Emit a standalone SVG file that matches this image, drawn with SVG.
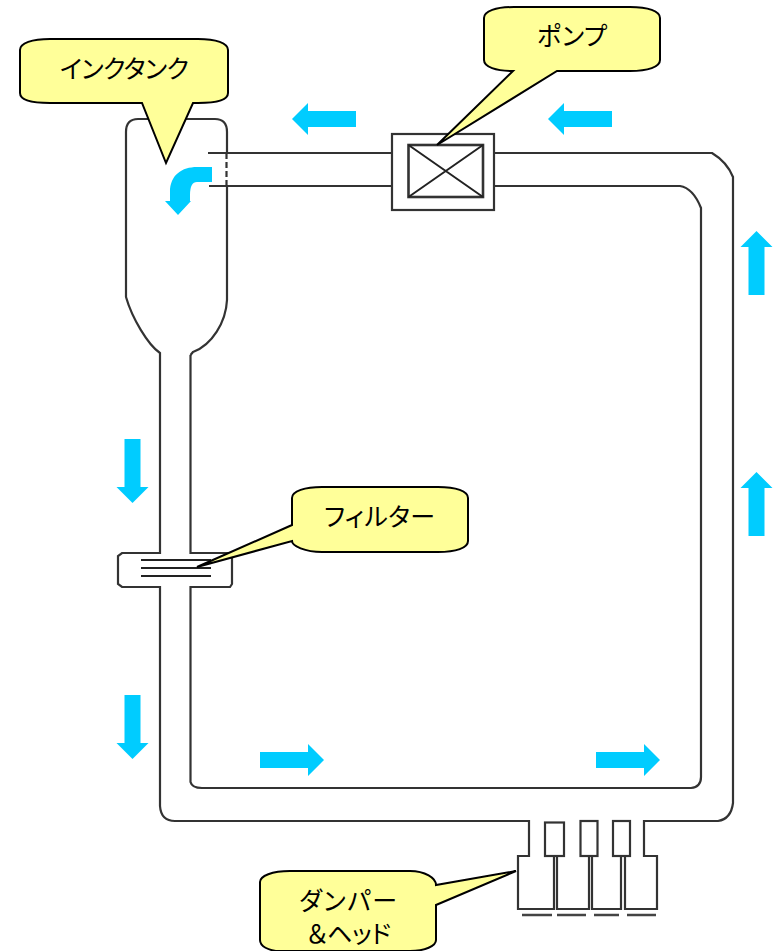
<svg xmlns="http://www.w3.org/2000/svg" width="780" height="951" viewBox="0 0 780 951">
<style>
.l{fill:none;stroke:#333;stroke-width:2.200}
.t{fill:none;stroke:#222;stroke-width:2}
.a{fill:#00CCFF}
.c{fill:#FFFF99;stroke:#000;stroke-width:2;stroke-linejoin:miter}
text{font-family:"Noto Sans CJK JP","Liberation Sans",sans-serif;font-size:25px;font-feature-settings:"palt";fill:#000;text-anchor:start}
</style>
<rect width="780" height="951" fill="#fff"/>
<g id="connectors">
<path class="l" d="M160 355V553H122L118 556V584L122 587H160V806Q161 821 175 821H529V856H518V909H554V856"/>
<path class="l" d="M190.500 355V553H232V584L230 587H190.500V782Q192 788 202 788H691Q701 787 701 777V208Q693 188 680 186H494"/>
<path class="l" d="M160 355V353C148 345 132 318 126 297V132Q126 119 138 119H215Q227 119 227 132V153M227 186V300C226 322 212 345 193 352L190.500 355"/>
<path class="l" d="M208 153H392M209 186H392"/>
<path class="l" d="M226.500 153V186" stroke-dasharray="6 3"/>
<path class="l" d="M494 153H712Q727 162 733 177V803Q731 819 718 821H644V856H657V909H625V856"/>
<path class="l" d="M557 856V909H589V856M592 856V909H621V856"/>
</g>
<g id="tank-arrow"><path class="a" d="M212 167V182H197Q190 182 190 195V201H191L178 215L165 201H170V192C170 175 182 167 197 167Z"/></g>
<g id="pump">
<rect class="l" x="392" y="134" width="102" height="76" fill="#fff"/>
<rect class="l" x="408.500" y="145" width="74.500" height="52" style="stroke-width:2.600"/>
<path class="t" d="M408.500 145L483 197M483 145L408.500 197"/>
</g>
<g id="filter"><path class="t" d="M141 560H211M141 568H211M141 576H211"/></g>
<g id="heads">
<rect class="l" x="545" y="822.500" width="19" height="33.500"/>
<rect class="l" x="580.500" y="821" width="17" height="35"/>
<rect class="l" x="613" y="821" width="17" height="35"/>
<path d="M522 915H552M557 915H586M594 915H619M627 915H656" style="fill:none;stroke:#444;stroke-width:2.400"/>
</g>
<g id="arrows">
<path class="a" d="M292 119L308 103V111H356V127H308V135Z"/>
<path class="a" d="M548 119L564 103V111H612V127H564V135Z"/>
<path class="a" d="M756.500 231L772.500 247H764.500V295H748.500V247H740.500Z"/>
<path class="a" d="M756.500 472L772.500 488H764.500V536H748.500V488H740.500Z"/>
<path class="a" d="M132.500 503L148.500 487H140.500V439H124.500V487H116.500Z"/>
<path class="a" d="M132.500 759L148.500 743H140.500V695H124.500V743H116.500Z"/>
<path class="a" d="M324 760L308 744V752H260V768H308V776Z"/>
<path class="a" d="M660 760L644 744V752H596V768H644V776Z"/>
</g>
<g id="callout-tank"><path class="c" d="M50 39H198C216 39 228 43 228 50V93C228 100 216 103 198 103H193L166 163L142 103H50C32 103 20 100 20 93V50C20 43 32 39 50 39Z"/><text x="60" y="78" textLength="129">インクタンク</text></g>
<g id="callout-pump"><path class="c" d="M514 7H630C648 7 660 11 660 18V60C660 67 648 71 630 71H557L437 145L513 71C496 71 484 67 484 60V18C484 11 496 7 514 7Z"/><text x="537" y="45" textLength="70">ポンプ</text></g>
<g id="callout-filter"><path class="c" d="M322 487H438C456 487 468 491 468 498V541C468 548 456 552 438 552H322C305 552 292 546 292 541L197 567L292 525V498C292 491 305 487 322 487Z"/><text x="324" y="526" textLength="111">フィルター</text></g>
<g id="callout-damper"><path class="c" d="M290 871H410C425 871 436 878 436 885L516 871L436 905V940C436 946 425 951 410 951H280C268 951 260 946 260 940V882C260 876 272 871 290 871Z"/><text x="299" y="910" textLength="98">ダンパー</text><text x="307" y="943" textLength="84">＆ヘッド</text></g>
</svg>
